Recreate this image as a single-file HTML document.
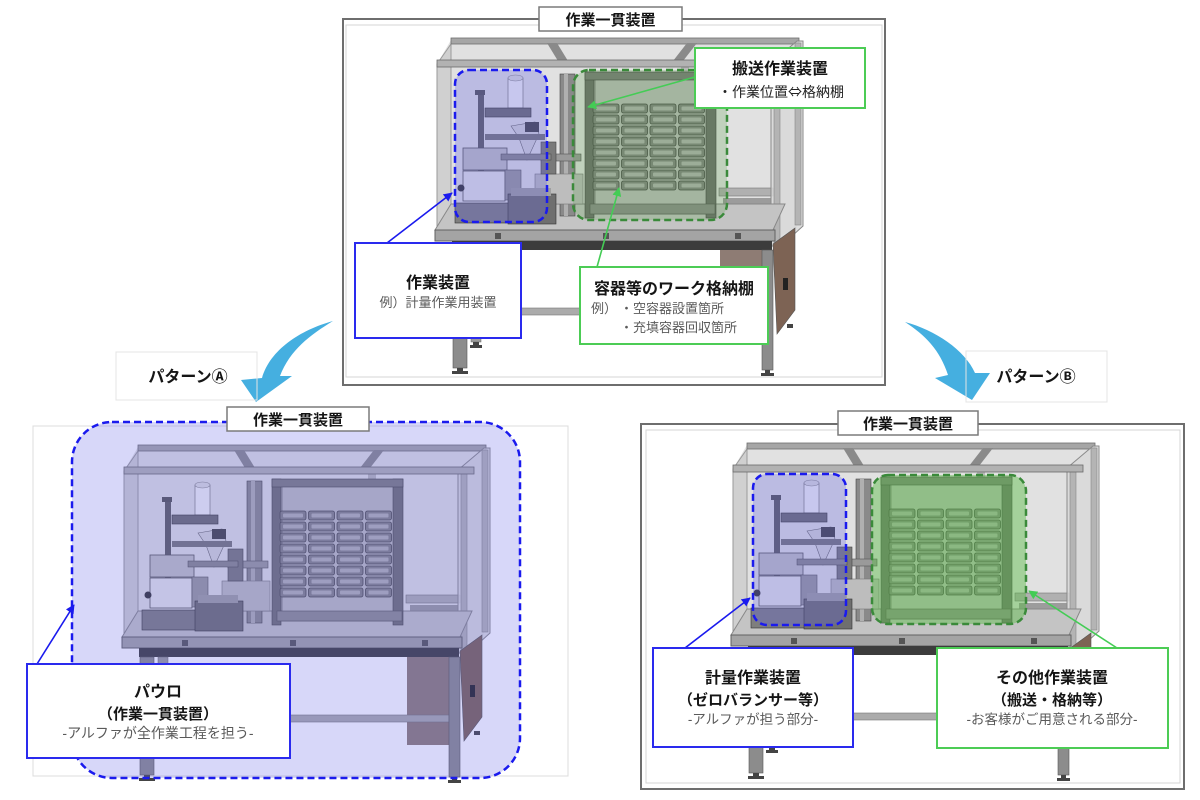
<!DOCTYPE html>
<html><head><meta charset="utf-8">
<style>
html,body{margin:0;padding:0;background:#fff;width:1200px;height:800px;overflow:hidden;}
svg{display:block;}
text{font-family:"Liberation Sans","Noto Sans CJK JP",sans-serif;}
.t{font-weight:bold;fill:#151515;}
.s{fill:#5a5a5a;}
</style></head><body>
<svg width="1200" height="800" viewBox="0 0 1200 800" xmlns="http://www.w3.org/2000/svg">
<defs>
<marker id="ab" viewBox="0 0 10 10" refX="9" refY="5" markerWidth="9" markerHeight="9" markerUnits="userSpaceOnUse" orient="auto"><path d="M0,0 L10,5 L0,10 z" fill="#1a1aee"/></marker>
<marker id="ag" viewBox="0 0 10 10" refX="9" refY="5" markerWidth="9" markerHeight="9" markerUnits="userSpaceOnUse" orient="auto"><path d="M0,0 L10,5 L0,10 z" fill="#44cc55"/></marker>
<g id="trow">
 <rect x="158" y="0" width="26" height="9" rx="2" fill="#858585" stroke="#4a4a4a" stroke-width="0.8"/>
 <rect x="186.5" y="0" width="26" height="9" rx="2" fill="#858585" stroke="#4a4a4a" stroke-width="0.8"/>
 <rect x="215" y="0" width="26" height="9" rx="2" fill="#858585" stroke="#4a4a4a" stroke-width="0.8"/>
 <rect x="243.5" y="0" width="26" height="9" rx="2" fill="#858585" stroke="#4a4a4a" stroke-width="0.8"/>
 <rect x="161" y="2.5" width="20" height="4" rx="1" fill="#b2b2b2"/>
 <rect x="189.5" y="2.5" width="20" height="4" rx="1" fill="#b2b2b2"/>
 <rect x="218" y="2.5" width="20" height="4" rx="1" fill="#b2b2b2"/>
 <rect x="246.5" y="2.5" width="20" height="4" rx="1" fill="#b2b2b2"/>
</g>
<g id="mach">
 <polygon points="2,26 16,2 362,2 362,190 340,200 2,200" fill="#e1e1e1"/>
 <polygon points="2,26 16,6 16,184 2,196" fill="#d0d0d0" stroke="#9a9a9a" stroke-width="1"/>
 <rect x="16" y="0" width="348" height="6" fill="#a6a6a6" stroke="#6e6e6e" stroke-width="0.8"/>
 <polygon points="112,5 122,5 133,23 123,23" fill="#8a8a8a"/>
 <polygon points="252,5 262,5 248,23 238,23" fill="#8a8a8a"/>
 <rect x="246" y="29" width="8" height="40" fill="#b8b8b8"/>
 <rect x="284" y="150" width="54" height="8" fill="#b0b0b0" stroke="#777" stroke-width="0.6"/>
 <rect x="288" y="160" width="48" height="6" fill="#9c9c9c"/>
 <polygon points="336,25 362,3 368,3 368,188 346,208 336,208" fill="#d8d8d8" fill-opacity="0.85" stroke="#8a8a8a" stroke-width="1"/>
 <rect x="339" y="27" width="6" height="178" fill="#b4b4b4" stroke="#888" stroke-width="0.6"/>
 <rect x="360" y="5" width="6" height="182" fill="#b4b4b4" stroke="#888" stroke-width="0.6"/>
 <rect x="2" y="22" width="350" height="7" fill="#b2b2b2" stroke="#6a6a6a" stroke-width="0.8"/>
 <polygon points="16,166 350,166 338,192 0,192" fill="#c4c4c4" stroke="#888" stroke-width="1"/>
 <rect x="0" y="192" width="340" height="11" fill="#a4a4a4" stroke="#626262" stroke-width="1"/>
 <rect x="60" y="195" width="6" height="6" fill="#555"/>
 <rect x="168" y="195" width="6" height="6" fill="#555"/>
 <rect x="300" y="195" width="6" height="6" fill="#555"/>
 <rect x="17" y="203" width="320" height="9" fill="#3c3c3c"/>
 <rect x="285" y="212" width="42" height="88" fill="#8e7c74"/>
 <polygon points="338,206 360,190 360,272 342,296" fill="#7d6354" stroke="#555" stroke-width="0.6"/>
 <rect x="348" y="240" width="5" height="12" fill="#222"/>
 <rect x="36" y="212" width="10" height="92" fill="#9c9c9c" stroke="#666" stroke-width="0.5"/>
 <rect x="32" y="270" width="295" height="7" fill="#ababab" stroke="#777" stroke-width="0.6"/>
 <rect x="18" y="212" width="14" height="118" fill="#8c8c8c" stroke="#555" stroke-width="0.6"/>
 <rect x="327" y="212" width="11" height="120" fill="#8c8c8c" stroke="#555" stroke-width="0.6"/>
 <rect x="22" y="330" width="6" height="4" fill="#444"/>
 <rect x="17" y="333" width="16" height="3" fill="#444"/>
 <rect x="330" y="332" width="5" height="4" fill="#444"/>
 <rect x="326" y="335" width="13" height="3" fill="#444"/>
 <rect x="38" y="304" width="6" height="4" fill="#444"/>
 <rect x="35" y="307" width="12" height="3" fill="#444"/>
 <rect x="352" y="286" width="6" height="4" fill="#444"/>
 <rect x="160" y="36" width="115" height="140" fill="#bdbdbd" stroke="#777" stroke-width="0.8"/>
 <rect x="150" y="34" width="9" height="146" fill="#707070" stroke="#444" stroke-width="0.6"/>
 <rect x="271" y="34" width="10" height="146" fill="#707070" stroke="#444" stroke-width="0.6"/>
 <rect x="150" y="34" width="131" height="8" fill="#7e7e7e" stroke="#444" stroke-width="0.6"/>
 <rect x="155" y="166" width="125" height="10" fill="#8e8e8e" stroke="#555" stroke-width="0.6"/>
 <use href="#trow" y="66"/>
 <use href="#trow" y="77"/>
 <use href="#trow" y="88"/>
 <use href="#trow" y="99"/>
 <use href="#trow" y="110"/>
 <use href="#trow" y="121"/>
 <use href="#trow" y="132"/>
 <use href="#trow" y="143"/>
 <rect x="125" y="36" width="15" height="142" fill="#8a8a8a" stroke="#444" stroke-width="0.6"/>
 <rect x="129" y="36" width="4" height="142" fill="#b0b0b0"/>
 <rect x="100" y="136" width="48" height="30" fill="#bdbdbd" stroke="#777" stroke-width="0.6"/>
 <rect x="106" y="116" width="40" height="7" fill="#9a9a9a" stroke="#555" stroke-width="0.6"/>
 <rect x="106" y="104" width="15" height="32" fill="#7a7a7a" stroke="#444" stroke-width="0.6"/>
 <rect x="43" y="54" width="6" height="90" fill="#5e5e5e"/>
 <rect x="40" y="52" width="10" height="5" fill="#555"/>
 <rect x="73" y="40" width="15" height="30" fill="#f2f2f2" stroke="#888" stroke-width="0.8"/>
 <ellipse cx="80.5" cy="40" rx="7.5" ry="3" fill="#dcdcdc" stroke="#888" stroke-width="0.6"/>
 <rect x="50" y="70" width="46" height="9" fill="#6e6e6e" stroke="#333" stroke-width="0.6"/>
 <polygon points="76,88 100,84 104,96 92,122 84,100" fill="#d6d6d6" stroke="#666" stroke-width="0.6"/>
 <rect x="90" y="84" width="14" height="10" fill="#444"/>
 <rect x="50" y="96" width="60" height="6" fill="#777"/>
 <rect x="28" y="110" width="44" height="22" fill="#c2c2c2" stroke="#555" stroke-width="0.8"/>
 <rect x="66" y="116" width="50" height="6" fill="#8a8a8a" stroke="#444" stroke-width="0.5"/>
 <rect x="28" y="133" width="42" height="30" fill="#e6e6e6" stroke="#555" stroke-width="0.8"/>
 <rect x="70" y="132" width="16" height="30" fill="#9a9a9a" stroke="#555" stroke-width="0.6"/>
 <circle cx="26" cy="150" r="3.5" fill="#333"/>
 <rect x="20" y="165" width="55" height="20" fill="#7e7e7e" stroke="#333" stroke-width="0.6"/>
 <rect x="73" y="156" width="48" height="30" fill="#6f6f6f" stroke="#333" stroke-width="0.6"/>
 <rect x="76" y="150" width="40" height="8" fill="#a0a0a0"/>
</g>
</defs>
<rect width="1200" height="800" fill="#fff"/>

<!-- ============ TOP ============ -->
<rect x="343" y="19" width="542" height="366" fill="#fff" stroke="#6e6e6e" stroke-width="2"/>
<rect x="346" y="25" width="536" height="352" fill="none" stroke="#d4d4d4" stroke-width="1"/>
<use href="#mach" x="435" y="38"/>
<rect x="455" y="70" width="92" height="152" rx="14" fill="#6464e6" fill-opacity="0.3" stroke="#1a1aee" stroke-width="2.5" stroke-dasharray="7 4"/>
<rect x="573" y="70" width="154" height="150" rx="16" fill="#4e9a3a" fill-opacity="0.22" stroke="#3a8a3a" stroke-width="2.5" stroke-dasharray="7 4"/>
<rect x="539" y="7" width="143" height="24" fill="#fff" stroke="#7a7a7a" stroke-width="1.5"/>
<text x="610.5" y="25" class="t" font-size="15" text-anchor="middle">作業一貫装置</text>

<line x1="387" y1="243" x2="452" y2="193" stroke="#1a1aee" stroke-width="1.6" marker-end="url(#ab)"/>
<line x1="597" y1="267" x2="619" y2="188" stroke="#44cc55" stroke-width="1.6" marker-end="url(#ag)"/>
<line x1="695" y1="77" x2="588" y2="107" stroke="#44cc55" stroke-width="1.6" marker-end="url(#ag)"/>

<rect x="355" y="243" width="166" height="95" fill="#fff" stroke="#2a2aee" stroke-width="2"/>
<text x="438" y="288" class="t" font-size="16" text-anchor="middle">作業装置</text>
<text x="438" y="307" class="s" font-size="13" text-anchor="middle">例）計量作業用装置</text>

<rect x="580" y="267" width="188" height="77" fill="#fff" stroke="#4ccc55" stroke-width="2"/>
<text x="674" y="294" class="t" font-size="16" text-anchor="middle">容器等のワーク格納棚</text>
<text x="591" y="313" class="s" font-size="13">例）</text>
<text x="620" y="313" class="s" font-size="13">・空容器設置箇所</text>
<text x="620" y="332" class="s" font-size="13">・充填容器回収箇所</text>

<rect x="695" y="48" width="170" height="60" fill="#fff" stroke="#4ccc55" stroke-width="2"/>
<text x="780" y="74" class="t" font-size="16" text-anchor="middle">搬送作業装置</text>
<text x="781" y="97" font-size="14" fill="#222" text-anchor="middle">・作業位置<tspan font-family="Noto Sans CJK JP, sans-serif">⇔</tspan>格納棚</text>

<!-- ============ ARROWS ============ -->
<path d="M333,321 C300,330 270,350 262,378 L241,380 L256,402 L292,376 L280,376 C290,350 310,335 333,321 Z" fill="#45afe0"/>
<path d="M905,322 C935,330 965,350 975,373 L990,373 L972,400 L935,378 L948,375 C940,350 925,335 905,322 Z" fill="#45afe0"/>

<rect x="116" y="352" width="141" height="48" fill="none" stroke="#e4e4e4" stroke-width="1"/>
<text x="188" y="382" class="t" font-size="16" text-anchor="middle">パターンⒶ</text>
<rect x="966" y="351" width="141" height="51" fill="none" stroke="#e4e4e4" stroke-width="1"/>
<text x="1036" y="382" class="t" font-size="16" text-anchor="middle">パターンⒷ</text>

<!-- ============ BOTTOM LEFT ============ -->
<rect x="33" y="426" width="535" height="350" fill="#fff" stroke="#dcdcdc" stroke-width="1"/>
<use href="#mach" x="122" y="445"/>
<rect x="72" y="422" width="448" height="356" rx="40" fill="#6464e6" fill-opacity="0.26" stroke="#1a1aee" stroke-width="2.5" stroke-dasharray="7 4"/>
<rect x="227" y="407" width="142" height="24" fill="#fff" stroke="#7a7a7a" stroke-width="1.5"/>
<text x="298" y="425" class="t" font-size="15" text-anchor="middle">作業一貫装置</text>
<line x1="37" y1="664" x2="74" y2="605" stroke="#1a1aee" stroke-width="1.6" marker-end="url(#ab)"/>
<rect x="27" y="664" width="263" height="94" fill="#fff" stroke="#2a2aee" stroke-width="2"/>
<text x="158" y="697" class="t" font-size="16" text-anchor="middle">パウロ</text>
<text x="158" y="719" class="t" font-size="15" text-anchor="middle">（作業一貫装置）</text>
<text x="158" y="738" class="s" font-size="14" text-anchor="middle">-アルファが全作業工程を担う-</text>

<!-- ============ BOTTOM RIGHT ============ -->
<rect x="641" y="424" width="543" height="365" fill="#fff" stroke="#6e6e6e" stroke-width="2"/>
<rect x="646" y="430" width="534" height="353" fill="none" stroke="#d4d4d4" stroke-width="1"/>
<use href="#mach" x="731" y="443"/>
<rect x="753" y="474" width="93" height="151" rx="14" fill="#6464e6" fill-opacity="0.3" stroke="#1a1aee" stroke-width="2.5" stroke-dasharray="7 4"/>
<rect x="872" y="475" width="154" height="149" rx="16" fill="#5abf46" fill-opacity="0.45" stroke="#3a8a3a" stroke-width="2.5" stroke-dasharray="7 4"/>
<rect x="838" y="411" width="140" height="24" fill="#fff" stroke="#7a7a7a" stroke-width="1.5"/>
<text x="908" y="429" class="t" font-size="15" text-anchor="middle">作業一貫装置</text>
<line x1="685" y1="648" x2="750" y2="598" stroke="#1a1aee" stroke-width="1.6" marker-end="url(#ab)"/>
<line x1="1117" y1="648" x2="1029" y2="591" stroke="#44cc55" stroke-width="1.6" marker-end="url(#ag)"/>
<rect x="653" y="648" width="200" height="99" fill="#fff" stroke="#2a2aee" stroke-width="2"/>
<text x="753" y="683" class="t" font-size="16" text-anchor="middle">計量作業装置</text>
<text x="753" y="705" class="t" font-size="15" text-anchor="middle">（ゼロバランサー等）</text>
<text x="753" y="724" class="s" font-size="13.5" text-anchor="middle">-アルファが担う部分-</text>
<rect x="937" y="648" width="231" height="100" fill="#fff" stroke="#4ccc55" stroke-width="2"/>
<text x="1052" y="683" class="t" font-size="16" text-anchor="middle">その他作業装置</text>
<text x="1052" y="705" class="t" font-size="15" text-anchor="middle">（搬送・格納等）</text>
<text x="1052" y="724" class="s" font-size="13.5" text-anchor="middle">-お客様がご用意される部分-</text>
</svg>
</body></html>
